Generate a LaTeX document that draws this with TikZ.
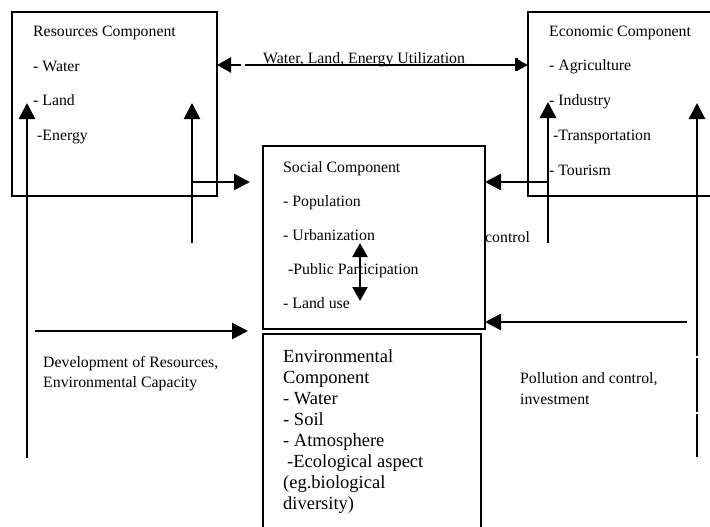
\documentclass[tikz,border=0pt]{standalone}
\usepackage{fontspec}
\setmainfont{Liberation Serif}
\usetikzlibrary{arrows.meta}
\begin{document}
\begin{tikzpicture}[x=1pt,y=-1pt,
  box/.style={draw,line width=1.8pt,inner sep=0pt,outer sep=0pt},
  lbl/.style={anchor=base west,inner sep=0pt,font=\fontsize{15.8}{19}\selectfont},
  envt/.style={anchor=base west,inner sep=0pt,font=\fontsize{18.5}{21}\selectfont},
  arr/.style={line width=2.6pt,-{Triangle[length=16pt,width=16pt]}},
  darr/.style={line width=2.6pt,{Triangle[length=14pt,width=15pt]}-{Triangle[length=14pt,width=15pt]}},
  ln/.style={line width=2.6pt}]
\clip (0,0) rectangle (710,527);
\fill[white] (0,0) rectangle (710,527);

% boxes
\node[box,minimum width=205pt,minimum height=184pt] (res) at (114.5,104) {};
\node[box,minimum width=192pt,minimum height=184pt] (econ) at (624,104) {};
\node[box,minimum width=222pt,minimum height=183pt] (soc) at (374,237.5) {};
\node[box,minimum width=218pt,minimum height=206pt] (envb) at (372,437) {};

% resources text
\node[lbl] (r1) at (33,37) {Resources Component};
\node[lbl] (r2) at (33,72) {- Water};
\node[lbl] (r3) at (33,106) {- Land};
\node[lbl] (r4) at (37,140) {-Energy};

% economic text
\node[lbl] (e1) at (549,37) {Economic Component};
\node[lbl] (e2) at (549,71) {- Agriculture};
\node[lbl] (e3) at (549,106) {- Industry};
\node[lbl] (e4) at (553,140) {-Transportation};
\node[lbl] (e5) at (549,175) {- Tourism};

% social text
\node[lbl] (s1) at (283,172) {Social Component};
\node[lbl] (s2) at (283,206) {- Population};
\node[lbl] (s3) at (283,240) {- Urbanization};
\node[lbl] (s4) at (288,274) {-Public Participation};
\node[lbl] (s5) at (283,308) {- Land use};

% environmental text
\node[envt] (v1) at (283,362) {Environmental};
\node[envt] (v2) at (283,383) {Component};
\node[envt] (v3) at (283,404) {- Water};
\node[envt] (v4) at (283,425) {- Soil};
\node[envt] (v5) at (283,446) {- Atmosphere};
\node[envt] (v6) at (287,467) {-Ecological aspect};
\node[envt] (v7) at (283,488) {(eg.biological};
\node[envt] (v8) at (283,509) {diversity)};

% labels
\node[lbl] (util) at (263,64) {Water, Land, Energy Utilization};
\node[lbl] (ctrl) at (485,242) {control};
\node[lbl] (dev1) at (43,367) {Development of Resources,};
\node[lbl] (dev2) at (43,387) {Environmental Capacity};
\node[lbl] (pol1) at (520,383) {Pollution and control,};
\node[lbl] (pol2) at (520,404) {investment};

% top two-way arrow
\coordinate (uA) at (241,65);
\coordinate (uB) at (245,65);
\draw[line width=2.6pt,-{Triangle[length=14pt,width=15pt]}] (uA) -- (res.east |- uA);
\draw[line width=2.6pt,-{Bar[width=13pt,line width=3.5pt] Triangle[length=10pt,width=10pt]}] (uB) -- (econ.west |- uB);

% left side
\coordinate (a1s) at (27,458); \coordinate (a1e) at (27,103);
\draw[arr] (a1s) -- (a1e);
\coordinate (a2s) at (192,243); \coordinate (a2e) at (192,103);
\draw[arr] (a2s) -- (a2e);
\coordinate (a3s) at (192,182); \coordinate (a3e) at (250,182);
\draw[arr] (a3s) -- (a3e);
\coordinate (a4s) at (35,331); \coordinate (a4e) at (248,331);
\draw[arr] (a4s) -- (a4e);

% right side
\coordinate (b1s) at (548,243); \coordinate (b1e) at (548,102);
\draw[arr] (b1s) -- (b1e);
\coordinate (b2s) at (548,182);
\draw[arr] (b2s) -- (soc.east |- b2s);
\coordinate (b3s) at (687,322);
\draw[arr] (b3s) -- (soc.east |- b3s);
\coordinate (c1) at (697,457); \coordinate (c2) at (697,414);
\coordinate (c3) at (697,412); \coordinate (c4) at (697,358);
\coordinate (c5) at (697,356); \coordinate (c6) at (697,103);
\draw[ln] (c1) -- (c2);
\draw[ln] (c3) -- (c4);
\draw[arr] (c5) -- (c6);

% internal double arrow
\coordinate (d1) at (360,243); \coordinate (d2) at (360,301);
\draw[darr] (d1) -- (d2);
\end{tikzpicture}
\end{document}
